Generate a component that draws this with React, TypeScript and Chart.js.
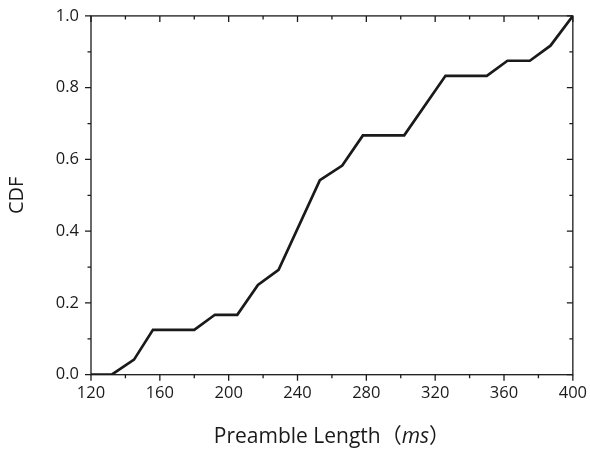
import React, { useEffect, useRef } from "react";
import { Chart, registerables } from "chart.js";

Chart.register(...registerables);

const preambleMs = [120, 132, 145, 156, 180, 192, 205, 217, 229, 253, 266, 278, 302, 326, 350, 362, 375, 387, 400];
const cdfValues = [0, 0, 0.042, 0.125, 0.125, 0.167, 0.167, 0.25, 0.292, 0.542, 0.583, 0.667, 0.667, 0.833, 0.833, 0.875, 0.875, 0.917, 1.0];

const xTickValues = [120, 160, 200, 240, 280, 320, 360, 400];
const yTickValues = [0, 0.2, 0.4, 0.6, 0.8, 1.0];
const xMinorValues = [140, 180, 220, 260, 300, 340, 380];
const yMinorValues = [0.1, 0.3, 0.5, 0.7, 0.9];

const xTitleMain = "Preamble Length";
const xTitleOpen = "（";
const xTitleUnit = "ms";
const xTitleClose = "）";
const yTitle = "CDF";

const FONT = "'Open Sans', 'Noto Sans CJK SC', sans-serif";
const INK = "#1a1a1a";

const framePlugin = {
  id: "frameTicks",
  afterDraw(chart: any) {
    const { ctx, chartArea, scales } = chart;
    const { left, right, top, bottom } = chartArea;
    const xs = scales.x;
    const ys = scales.y;
    ctx.save();
    ctx.strokeStyle = INK;
    ctx.lineWidth = 1.3;
    ctx.strokeRect(left, top, right - left, bottom - top);
    const major = 6;
    const minor = 3.5;
    ctx.beginPath();
    xTickValues.forEach((v) => {
      const px = xs.getPixelForValue(v);
      ctx.moveTo(px, bottom);
      ctx.lineTo(px, bottom + major);
      ctx.moveTo(px, top);
      ctx.lineTo(px, top + major);
    });
    xMinorValues.forEach((v) => {
      const px = xs.getPixelForValue(v);
      ctx.moveTo(px, bottom);
      ctx.lineTo(px, bottom + minor);
      ctx.moveTo(px, top);
      ctx.lineTo(px, top + minor);
    });
    yTickValues.forEach((v) => {
      const py = ys.getPixelForValue(v);
      ctx.moveTo(left, py);
      ctx.lineTo(left - major, py);
      ctx.moveTo(right, py);
      ctx.lineTo(right - major, py);
    });
    yMinorValues.forEach((v) => {
      const py = ys.getPixelForValue(v);
      ctx.moveTo(left, py);
      ctx.lineTo(left - minor, py);
      ctx.moveTo(right, py);
      ctx.lineTo(right - minor, py);
    });
    ctx.stroke();

    // x-axis title with italic unit
    const fs = 21;
    const normal = `${fs}px ${FONT}`;
    const italic = `italic ${fs}px ${FONT}`;
    ctx.fillStyle = INK;
    ctx.textBaseline = "alphabetic";
    ctx.textAlign = "left";
    ctx.font = normal;
    const w1 = ctx.measureText(xTitleMain).width;
    const w2 = ctx.measureText(xTitleOpen).width;
    const w4 = ctx.measureText(xTitleClose).width;
    ctx.font = italic;
    const w3 = ctx.measureText(xTitleUnit).width;
    const total = w1 + w2 + w3 + w4;
    let x = (left + right) / 2 - total / 2;
    const y = 443;
    ctx.font = normal;
    ctx.fillText(xTitleMain, x, y);
    x += w1;
    ctx.fillText(xTitleOpen, x, y);
    x += w2;
    ctx.font = italic;
    ctx.fillText(xTitleUnit, x, y);
    x += w3;
    ctx.font = normal;
    ctx.fillText(xTitleClose, x, y);
    ctx.restore();
  },
};

export default function App() {
  const ref = useRef<HTMLCanvasElement>(null);

  useEffect(() => {
    if (!ref.current) return;
    Chart.defaults.font.family = FONT;
    const points = preambleMs.map((x, i) => ({ x, y: cdfValues[i] }));
    const chart = new Chart(ref.current, {
      type: "line",
      data: {
        datasets: [
          {
            data: points,
            borderColor: INK,
            borderWidth: 2.7,
            pointRadius: 0,
            tension: 0,
            fill: false,
          },
        ],
      },
      options: {
        animation: false,
        responsive: false,
        plugins: { legend: { display: false }, tooltip: { enabled: false } },
        layout: { padding: { left: 0, right: 16, top: 15, bottom: 0 } },
        scales: {
          x: {
            type: "linear",
            min: 120,
            max: 400,
            afterBuildTicks: (s: any) => {
              s.ticks = xTickValues.map((v) => ({ value: v }));
            },
            afterFit: (s: any) => {
              s.height = 452 - 374.7;
            },
            grid: { display: true, drawOnChartArea: false, drawTicks: true, tickLength: 6, color: "transparent" },
            border: { display: false },
            ticks: { color: INK, font: { size: 16.5 }, padding: 3, maxRotation: 0, autoSkip: false },
          },
          y: {
            type: "linear",
            min: 0,
            max: 1,
            afterBuildTicks: (s: any) => {
              s.ticks = yTickValues.map((v) => ({ value: v }));
            },
            afterFit: (s: any) => {
              s.width = 91;
            },
            grid: { display: true, drawOnChartArea: false, drawTicks: true, tickLength: 6, color: "transparent" },
            border: { display: false },
            ticks: {
              color: INK,
              font: { size: 16.5 },
              padding: 6,
              callback: (v: any) => Number(v).toFixed(1),
            },
            title: { display: true, text: yTitle, color: INK, font: { size: 20 }, padding: { top: 5, bottom: 0 } },
          },
        },
      },
      plugins: [framePlugin],
    });
    return () => chart.destroy();
  }, []);

  return (
    <div style={{ position: "absolute", left: 0, top: 0, width: 590, height: 452, background: "#fff" }}>
      <canvas ref={ref} width={590} height={452} />
    </div>
  );
}
